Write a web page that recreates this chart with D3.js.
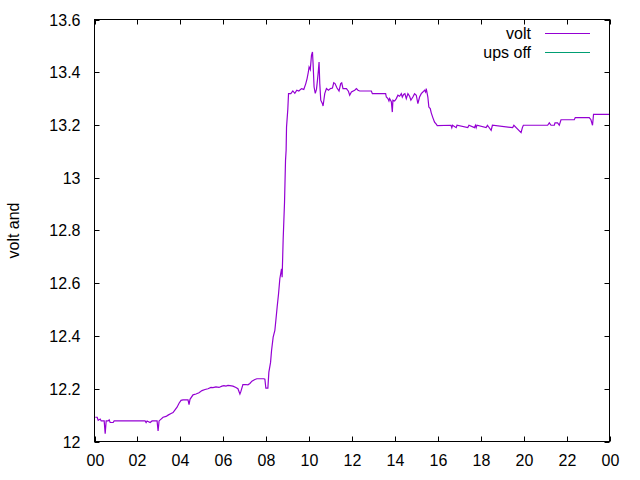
<!DOCTYPE html>
<html><head><meta charset="utf-8">
<script src="https://cdn.jsdelivr.net/npm/d3@7"></script>
<style>body{margin:0;background:#fff}text{font-family:"Liberation Sans",Arial,sans-serif}</style>
</head><body>
<svg id="c" width="640" height="480"></svg>
<script>
const hours = [0.033,0.126,0.172,0.265,0.312,0.451,0.498,0.544,0.637,0.684,0.730,0.870,0.916,1.195,2.358,2.405,2.451,2.591,2.684,2.916,2.963,3.009,3.102,3.195,3.335,3.428,3.567,3.660,3.753,3.847,3.940,4.033,4.126,4.265,4.358,4.405,4.451,4.591,4.730,4.870,5.009,5.149,5.288,5.428,5.521,5.660,5.800,5.940,6.033,6.126,6.219,6.312,6.451,6.591,6.684,6.777,6.823,6.916,7.056,7.149,7.242,7.335,7.474,7.567,7.707,7.893,7.940,7.986,8.079,8.126,8.205,8.251,8.326,8.405,8.451,8.512,8.577,8.637,8.716,8.744,8.791,8.856,8.902,8.930,8.949,9.009,9.042,9.149,9.242,9.335,9.428,9.521,9.647,9.753,9.847,9.907,9.963,10.000,10.056,10.112,10.158,10.186,10.233,10.288,10.344,10.391,10.437,10.465,10.498,10.544,10.623,10.651,10.730,10.809,10.902,10.995,11.088,11.149,11.209,11.302,11.395,11.474,11.521,11.581,11.740,11.833,11.893,11.972,12.126,12.205,12.279,12.358,12.902,12.949,13.567,13.600,13.674,13.721,13.753,13.833,13.879,13.907,13.986,14.065,14.140,14.219,14.298,14.344,14.405,14.465,14.530,14.605,14.684,14.744,14.837,14.916,14.995,15.070,15.149,15.228,15.302,15.381,15.428,15.460,15.535,15.581,15.647,15.693,15.767,15.847,15.926,15.972,16.614,16.651,16.684,16.856,16.893,17.395,17.451,17.707,17.753,17.786,17.823,18.251,18.312,18.484,18.544,19.488,19.544,19.879,19.940,19.986,21.116,21.195,21.274,21.428,21.460,21.581,21.660,21.740,22.358,22.405,23.056,23.135,23.209,23.256,24.0];
const volt = [12.092,12.092,12.080,12.085,12.078,12.078,12.030,12.078,12.078,12.082,12.072,12.072,12.078,12.078,12.078,12.072,12.078,12.072,12.078,12.078,12.040,12.078,12.085,12.092,12.095,12.100,12.106,12.110,12.120,12.130,12.145,12.156,12.158,12.158,12.158,12.140,12.160,12.177,12.180,12.185,12.193,12.197,12.200,12.205,12.204,12.207,12.205,12.210,12.212,12.210,12.213,12.212,12.210,12.205,12.200,12.180,12.190,12.216,12.216,12.215,12.220,12.229,12.235,12.238,12.238,12.238,12.236,12.202,12.202,12.263,12.300,12.345,12.396,12.421,12.459,12.510,12.560,12.617,12.655,12.623,12.763,12.908,13.066,13.104,13.192,13.260,13.319,13.319,13.329,13.320,13.332,13.329,13.338,13.335,13.357,13.376,13.400,13.420,13.410,13.464,13.477,13.433,13.344,13.320,13.335,13.370,13.410,13.439,13.357,13.294,13.281,13.272,13.319,13.338,13.332,13.338,13.340,13.360,13.357,13.340,13.329,13.357,13.360,13.338,13.338,13.328,13.313,13.325,13.332,13.338,13.332,13.329,13.329,13.319,13.319,13.306,13.300,13.291,13.300,13.288,13.249,13.294,13.291,13.300,13.313,13.309,13.319,13.306,13.316,13.319,13.300,13.319,13.309,13.294,13.306,13.319,13.313,13.281,13.306,13.319,13.325,13.332,13.325,13.338,13.306,13.268,13.262,13.246,13.228,13.211,13.203,13.198,13.199,13.190,13.199,13.190,13.199,13.190,13.199,13.190,13.199,13.190,13.199,13.190,13.199,13.180,13.199,13.190,13.199,13.171,13.190,13.199,13.199,13.208,13.199,13.199,13.208,13.208,13.199,13.220,13.220,13.228,13.228,13.220,13.199,13.240,13.240];
const xTickHours = [0,2,4,6,8,10,12,14,16,18,20,22,24];
const xTickLabels = ["00","02","04","06","08","10","12","14","16","18","20","22","00"];
const yTicks = [12,12.2,12.4,12.6,12.8,13,13.2,13.4,13.6];
const seriesNames = ["volt","ups off"];
const seriesColors = ["#9400d3","#009e73"];
const yLabel = "volt and";

const svg = d3.select("#c");
const L=94.5, R=609.5, T=19.5, B=441.5;
const x = d3.scaleLinear().domain([0,24]).range([L,R]);
const y = d3.scaleLinear().domain([12,13.6]).range([B,T]);
const fs = "16px";
const tk = 5;

const g = svg.append("g");
yTicks.forEach(v=>{
  const yy = Math.round(y(v))+0.5;
  g.append("line").attr("x1",L).attr("x2",L+tk).attr("y1",yy).attr("y2",yy).attr("stroke","#000");
  g.append("line").attr("x1",R).attr("x2",R-tk).attr("y1",yy).attr("y2",yy).attr("stroke","#000");
  g.append("text").attr("x",L-14).attr("y",yy).attr("dy","0.35em").attr("text-anchor","end").style("font-size",fs).text(d3.format("~g")(v));
});
xTickHours.forEach((h,i)=>{
  const xx = Math.round(x(h))+0.5;
  g.append("line").attr("x1",xx).attr("x2",xx).attr("y1",B).attr("y2",B-tk).attr("stroke","#000");
  g.append("line").attr("x1",xx).attr("x2",xx).attr("y1",T).attr("y2",T+tk).attr("stroke","#000");
  g.append("text").attr("x",xx).attr("y",B+24).attr("text-anchor","middle").style("font-size",fs).text(xTickLabels[i]);
});
const pts = hours.map((h,i)=>[h,volt[i]]);
svg.append("path").datum(pts)
  .attr("d", d3.line().x(d=>x(d[0])).y(d=>y(d[1])))
  .attr("fill","none").attr("stroke",seriesColors[0]).attr("stroke-width",1.2);
svg.append("rect").attr("x",L).attr("y",T).attr("width",R-L).attr("height",B-T).attr("fill","none").attr("stroke","#000");
svg.append("text").attr("transform",`translate(19,${(T+B)/2}) rotate(-90)`).attr("text-anchor","middle").style("font-size",fs).text(yLabel);
seriesNames.forEach((n,i)=>{
  const ly = 33.5 + i*19;
  svg.append("text").attr("x",531).attr("y",ly).attr("dy","0.35em").attr("text-anchor","end").style("font-size",fs).text(n);
  svg.append("line").attr("x1",545).attr("x2",590).attr("y1",ly).attr("y2",ly).attr("stroke",seriesColors[i]).attr("stroke-width",1.2);
});
</script>
</body></html>
